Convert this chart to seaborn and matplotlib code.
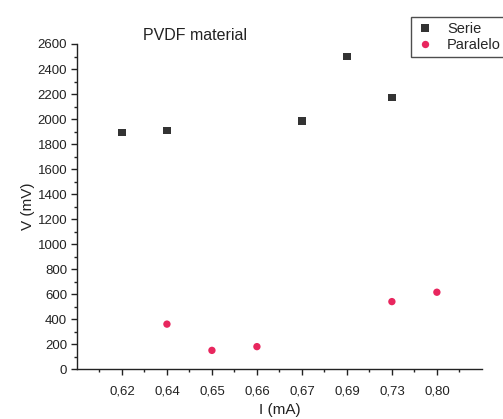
import pandas as pd
import matplotlib.pyplot as plt
from matplotlib.ticker import MultipleLocator, FixedLocator
import seaborn as sns

# Data
x_labels = ['0,62', '0,64', '0,65', '0,66', '0,67', '0,69', '0,73', '0,80']
serie_x = ['0,62', '0,64', '0,67', '0,69', '0,73']
serie_v = [1890, 1910, 1985, 2500, 2170]
paralelo_x = ['0,64', '0,65', '0,66', '0,73', '0,80']
paralelo_v = [360, 150, 180, 540, 615]

pos = {lab: i + 1 for i, lab in enumerate(x_labels)}
df = pd.concat([
    pd.DataFrame({'I': [pos[v] for v in serie_x], 'V': serie_v, 'grupo': 'Serie'}),
    pd.DataFrame({'I': [pos[v] for v in paralelo_x], 'V': paralelo_v, 'grupo': 'Paralelo'}),
])

sns.set_style('white')
plt.rcParams['font.family'] = ['Liberation Sans', 'DejaVu Sans']

fig = plt.figure(figsize=(5.03, 4.19), dpi=100)
ax = fig.add_axes([0.153, 0.119, 0.805, 0.776])

sns.scatterplot(data=df, x='I', y='V', hue='grupo', style='grupo',
                palette={'Serie': '#333333', 'Paralelo': '#e8265e'},
                markers={'Serie': 's', 'Paralelo': 'o'},
                s=28, linewidth=0, ax=ax)

ax.set_xlim(0, 9)
ax.set_ylim(0, 2600)
ax.xaxis.set_major_locator(FixedLocator(list(range(1, 9))))
ax.set_xticklabels(x_labels)
ax.xaxis.set_minor_locator(FixedLocator([i + 0.5 for i in range(0, 9)]))
ax.yaxis.set_major_locator(MultipleLocator(200))
ax.yaxis.set_minor_locator(MultipleLocator(100))

sns.despine(ax=ax)
for sp in ['left', 'bottom']:
    ax.spines[sp].set_color('#222222')
    ax.spines[sp].set_linewidth(1.0)
ax.tick_params(which='major', direction='out', length=4, width=1, color='#222222',
               labelsize=9.5, labelcolor='#222222', bottom=True, left=True, pad=3)
ax.tick_params(which='minor', direction='out', length=2, width=1, color='#222222',
               bottom=True, left=True)
ax.tick_params(axis='x', which='major', pad=8)

ax.set_xlabel('I (mA)', fontsize=11, color='#222222', labelpad=4)
ax.set_ylabel('V (mV)', fontsize=11, color='#222222', labelpad=2)
fig.text(0.285, 0.905, 'PVDF material', fontsize=11.5, color='#222222')

leg = ax.legend(loc='upper left', bbox_to_anchor=(0.803, 0.978),
                bbox_transform=fig.transFigure, frameon=True, fancybox=False,
                fontsize=10.5, handletextpad=0.9, borderpad=0.35, labelspacing=0.15,
                handlelength=1.2, title=None)
leg.get_frame().set_edgecolor('#222222')
leg.get_frame().set_linewidth(1.0)

fig.savefig('out.png', dpi=100)
